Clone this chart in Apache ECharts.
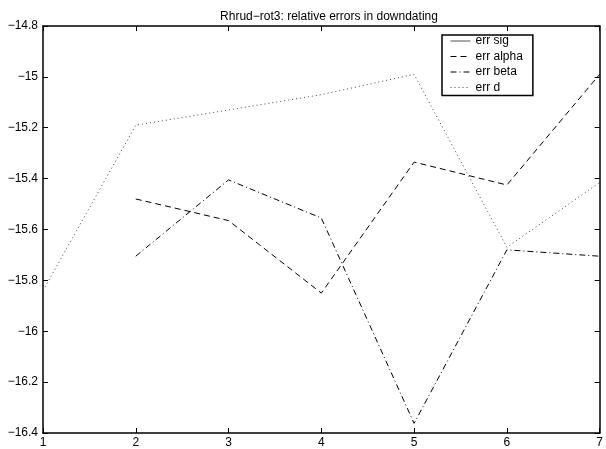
<!DOCTYPE html>
<html>
<head>
<meta charset="utf-8">
<script src="https://cdn.jsdelivr.net/npm/echarts@6/dist/echarts.min.js"></script>
<style>
html,body{margin:0;padding:0;background:#fff;}
#chart{width:606px;height:449px;}
</style>
</head>
<body>
<div id="chart"></div>
<script>
var categories = [1, 2, 3, 4, 5, 6, 7];
var errSig = [null, null, null, null, null, null, null];
var errAlpha = [null, -15.48, -15.565, -15.85, -15.335, -15.425, -14.99];
var errBeta = [null, -15.705, -15.405, -15.555, -16.362, -15.68, -15.705];
var errD = [-15.84, -15.19, -15.13, -15.07, -14.99, -15.67, -15.415];
var yTicks = [-16.4, -16.2, -16, -15.8, -15.6, -15.4, -15.2, -15, -14.8];

function pairs(arr) {
  return categories.map(function (c, i) { return [c, arr[i]]; });
}
function minus(v) {
  return String(v).replace('-', '\u2212');
}

var font = 'Liberation Sans, Arial, Helvetica, sans-serif';
var chart = echarts.init(document.getElementById('chart'), null, {renderer: 'canvas'});

var tickStyle = {show: true, inside: true, length: 5, lineStyle: {color: '#000', width: 1}};

chart.setOption({
  animation: false,
  backgroundColor: '#fff',
  title: {
    text: 'Rhrud\u2212rot3: relative errors in downdating',
    left: 324,
    textAlign: 'center',
    top: 6,
    textStyle: {fontFamily: font, fontSize: 12, fontWeight: 'normal', color: '#000'}
  },
  legend: {
    orient: 'vertical',
    left: 442,
    top: 35,
    backgroundColor: '#fff',
    borderColor: '#000',
    borderWidth: 1.5,
    borderRadius: 0,
    padding: [0, 10, 2, 8],
    itemWidth: 20,
    itemHeight: 11,
    itemGap: 3.5,
    itemStyle: {opacity: 0},
    lineStyle: {width: 1},
    textStyle: {fontFamily: font, fontSize: 12, color: '#000'},
    data: ['err sig', 'err alpha', 'err beta', 'err d']
  },
  grid: {left: 43, right: 4, top: 26, bottom: 14, containLabel: false},
  xAxis: [{
    type: 'value', min: 1, max: 7, interval: 1, position: 'bottom',
    axisLine: {show: true, onZero: false, lineStyle: {color: '#000', width: 1.5}},
    axisTick: tickStyle,
    splitLine: {show: false},
    axisLabel: {fontFamily: font, fontSize: 12, color: '#000', margin: 4}
  }, {
    type: 'value', min: 1, max: 7, interval: 1, position: 'top',
    axisLine: {show: true, onZero: false, lineStyle: {color: '#000', width: 1.5}},
    axisTick: tickStyle,
    splitLine: {show: false},
    axisLabel: {show: false}
  }],
  yAxis: [{
    type: 'value', min: -16.4, max: -14.8, interval: 0.2, position: 'left',
    axisLine: {show: true, onZero: false, lineStyle: {color: '#000', width: 1.5}},
    axisTick: tickStyle,
    splitLine: {show: false},
    axisLabel: {fontFamily: font, fontSize: 12, color: '#000', margin: 5,
      formatter: function (v) { return minus(Math.round(v * 10) / 10); }}
  }, {
    type: 'value', min: -16.4, max: -14.8, interval: 0.2, position: 'right',
    axisLine: {show: true, onZero: false, lineStyle: {color: '#000', width: 1.5}},
    axisTick: tickStyle,
    splitLine: {show: false},
    axisLabel: {show: false}
  }],
  series: [{
    name: 'err sig', type: 'line', data: pairs(errSig), showSymbol: false, symbol: 'none',
    lineStyle: {color: '#555', width: 1, type: 'solid'}, itemStyle: {color: '#555'}
  }, {
    name: 'err alpha', type: 'line', data: pairs(errAlpha), showSymbol: false, symbol: 'none',
    lineStyle: {color: '#000', width: 1, type: [6, 4]}, itemStyle: {color: '#000'}
  }, {
    name: 'err beta', type: 'line', data: pairs(errBeta), showSymbol: false, symbol: 'none',
    lineStyle: {color: '#000', width: 1, type: [6, 3, 1, 3]}, itemStyle: {color: '#000'}
  }, {
    name: 'err d', type: 'line', data: pairs(errD), showSymbol: false, symbol: 'none',
    lineStyle: {color: '#444', width: 1, type: [1, 3]}, itemStyle: {color: '#444'}
  }]
});
</script>
</body>
</html>
